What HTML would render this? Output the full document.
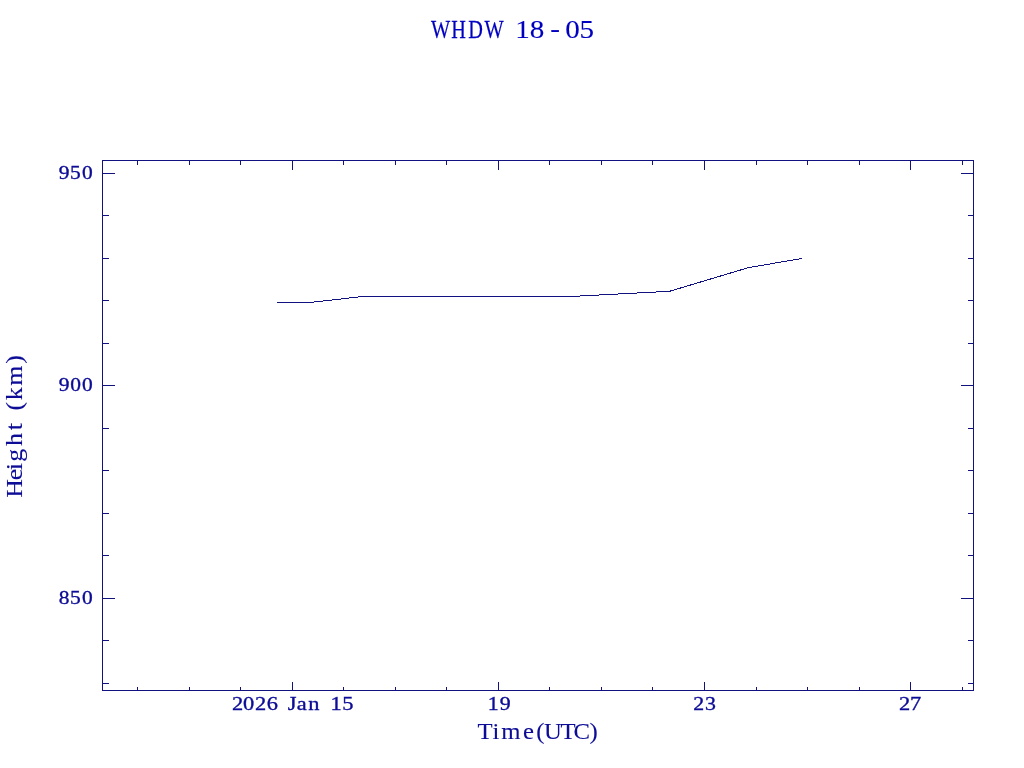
<!DOCTYPE html>
<html><head><meta charset="utf-8"><title>WHDW 18-05</title>
<style>
html,body{margin:0;padding:0;background:#fff;}
svg{display:block;}
text{font-family:'Liberation Serif', serif;}
</style></head>
<body>
<svg width="1024" height="768" viewBox="0 0 1024 768">
<rect width="1024" height="768" fill="#fff"/>
<rect x="102" y="160" width="1" height="531" fill="#111180"/>
<rect x="973" y="160" width="1" height="531" fill="#111180"/>
<rect x="102" y="160" width="872" height="1" fill="#111180"/>
<rect x="102" y="690" width="872" height="1" fill="#111180"/>
<rect x="103" y="683" width="6" height="1" fill="#111180"/>
<rect x="968" y="683" width="5" height="1" fill="#111180"/>
<rect x="103" y="640" width="6" height="1" fill="#111180"/>
<rect x="968" y="640" width="5" height="1" fill="#111180"/>
<rect x="103" y="598" width="12" height="1" fill="#111180"/>
<rect x="961" y="598" width="12" height="1" fill="#111180"/>
<rect x="103" y="555" width="6" height="1" fill="#111180"/>
<rect x="968" y="555" width="5" height="1" fill="#111180"/>
<rect x="103" y="513" width="6" height="1" fill="#111180"/>
<rect x="968" y="513" width="5" height="1" fill="#111180"/>
<rect x="103" y="470" width="6" height="1" fill="#111180"/>
<rect x="968" y="470" width="5" height="1" fill="#111180"/>
<rect x="103" y="428" width="6" height="1" fill="#111180"/>
<rect x="968" y="428" width="5" height="1" fill="#111180"/>
<rect x="103" y="385" width="12" height="1" fill="#111180"/>
<rect x="961" y="385" width="12" height="1" fill="#111180"/>
<rect x="103" y="343" width="6" height="1" fill="#111180"/>
<rect x="968" y="343" width="5" height="1" fill="#111180"/>
<rect x="103" y="300" width="6" height="1" fill="#111180"/>
<rect x="968" y="300" width="5" height="1" fill="#111180"/>
<rect x="103" y="258" width="6" height="1" fill="#111180"/>
<rect x="968" y="258" width="5" height="1" fill="#111180"/>
<rect x="103" y="215" width="6" height="1" fill="#111180"/>
<rect x="968" y="215" width="5" height="1" fill="#111180"/>
<rect x="103" y="173" width="12" height="1" fill="#111180"/>
<rect x="961" y="173" width="12" height="1" fill="#111180"/>
<rect x="137" y="161" width="1" height="4" fill="#111180"/>
<rect x="137" y="687" width="1" height="3" fill="#111180"/>
<rect x="189" y="161" width="1" height="4" fill="#111180"/>
<rect x="189" y="687" width="1" height="3" fill="#111180"/>
<rect x="240" y="161" width="1" height="4" fill="#111180"/>
<rect x="240" y="687" width="1" height="3" fill="#111180"/>
<rect x="292" y="161" width="1" height="9" fill="#111180"/>
<rect x="292" y="682" width="1" height="8" fill="#111180"/>
<rect x="343" y="161" width="1" height="4" fill="#111180"/>
<rect x="343" y="687" width="1" height="3" fill="#111180"/>
<rect x="395" y="161" width="1" height="4" fill="#111180"/>
<rect x="395" y="687" width="1" height="3" fill="#111180"/>
<rect x="446" y="161" width="1" height="4" fill="#111180"/>
<rect x="446" y="687" width="1" height="3" fill="#111180"/>
<rect x="498" y="161" width="1" height="9" fill="#111180"/>
<rect x="498" y="682" width="1" height="8" fill="#111180"/>
<rect x="549" y="161" width="1" height="4" fill="#111180"/>
<rect x="549" y="687" width="1" height="3" fill="#111180"/>
<rect x="601" y="161" width="1" height="4" fill="#111180"/>
<rect x="601" y="687" width="1" height="3" fill="#111180"/>
<rect x="652" y="161" width="1" height="4" fill="#111180"/>
<rect x="652" y="687" width="1" height="3" fill="#111180"/>
<rect x="704" y="161" width="1" height="9" fill="#111180"/>
<rect x="704" y="682" width="1" height="8" fill="#111180"/>
<rect x="756" y="161" width="1" height="4" fill="#111180"/>
<rect x="756" y="687" width="1" height="3" fill="#111180"/>
<rect x="807" y="161" width="1" height="4" fill="#111180"/>
<rect x="807" y="687" width="1" height="3" fill="#111180"/>
<rect x="859" y="161" width="1" height="4" fill="#111180"/>
<rect x="859" y="687" width="1" height="3" fill="#111180"/>
<rect x="910" y="161" width="1" height="9" fill="#111180"/>
<rect x="910" y="682" width="1" height="8" fill="#111180"/>
<rect x="962" y="161" width="1" height="4" fill="#111180"/>
<rect x="962" y="687" width="1" height="3" fill="#111180"/>
<polyline points="277,302.5 309.6,302.5 362.8,296.5 570.5,296.5 669.5,291.3 748.5,267.6 802,258.5" fill="none" stroke="#111180" stroke-width="1" shape-rendering="crispEdges"/>
<text transform="translate(432,38) scale(0.78,1)" x="-1.36 24.59 46.53 67.23" y="0" font-size="26" fill="#0000c0" stroke="#0000c0" stroke-width="0.25">WHDW</text>
<text transform="translate(518,38) scale(1.12,1)" x="-2.40 10.46 28.69 42.16 54.86" y="0" dy="0 0 -1.4 1.4 0" font-size="26" fill="#0000c0" stroke="#0000c0" stroke-width="0.1">18-05</text>
<text transform="translate(60,179) scale(1.1,1)" x="-1.15 9.03 20.12" y="0" font-size="19.5" fill="#0c0c96" stroke="#0c0c96" stroke-width="0.35">950</text>
<text transform="translate(60,391) scale(1.1,1)" x="-1.15 9.22 20.12" y="0" font-size="19.5" fill="#0c0c96" stroke="#0c0c96" stroke-width="0.35">900</text>
<text transform="translate(60,604) scale(1.1,1)" x="-1.24 9.03 20.12" y="0" font-size="19.5" fill="#0c0c96" stroke="#0c0c96" stroke-width="0.35">850</text>
<text transform="translate(233,710) scale(1.15,1)" x="-0.85 8.60 19.15 29.34 39.09 47.51 55.46 65.48 75.23 84.85 94.94" y="0" font-size="19.5" fill="#0c0c96" stroke="#0c0c96" stroke-width="0.35">2026 Jan 15</text>
<text transform="translate(490,710) scale(1.12,1)" x="-2.02 8.60" y="0" font-size="19.5" fill="#0c0c96" stroke="#0c0c96" stroke-width="0.35">19</text>
<text transform="translate(694,710) scale(1.12,1)" x="-0.75 9.77" y="0" font-size="19.5" fill="#0c0c96" stroke="#0c0c96" stroke-width="0.35">23</text>
<text transform="translate(900,710) scale(1.15,1)" x="-0.85 8.68" y="0" font-size="19.5" fill="#0c0c96" stroke="#0c0c96" stroke-width="0.35">27</text>
<text transform="translate(479,739) scale(1.03,1)" x="-1.52 13.15 21.67 42.68 55.57 63.18 79.06 91.68 107.31" y="0" font-size="24" fill="#0c0c96" stroke="#0c0c96" stroke-width="0.1">Time(UTC)</text>
<text transform="translate(22,495) rotate(-90) scale(1.08,1)" x="-2.64 13.60 23.03 30.75 45.43 60.05 66.71 78.27 87.75 101.25 121.61" y="0" font-size="24" fill="#0c0c96" stroke="#0c0c96" stroke-width="0.1">Height (km)</text>
</svg>
</body></html>
